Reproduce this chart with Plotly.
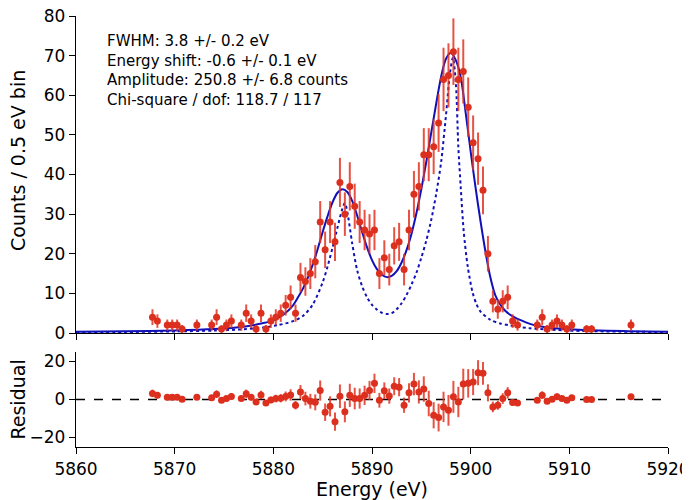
import plotly.graph_objects as go

# ---------------- data ----------------
energy = [5867.75, 5868.25, 5869.25, 5869.75, 5870.25, 5870.75, 5872.25, 5873.75,
          5874.25, 5874.75, 5875.25, 5875.75, 5876.75, 5877.25, 5877.75, 5878.25,
          5878.75, 5879.25, 5879.75, 5880.25, 5880.75, 5881.25, 5881.75, 5882.25,
          5882.75, 5883.25, 5883.75, 5884.25, 5884.75, 5885.25, 5885.75, 5886.25,
          5886.75, 5887.25, 5887.75, 5888.25, 5888.75, 5889.25, 5889.75, 5890.25,
          5890.75, 5891.25, 5891.75, 5892.25, 5892.75, 5893.25, 5893.75, 5894.25,
          5894.75, 5895.25, 5895.75, 5896.25, 5896.75, 5897.25, 5897.75, 5898.25,
          5898.75, 5899.25, 5899.75, 5900.25, 5900.75, 5901.25, 5901.75, 5902.25,
          5902.75, 5903.25, 5903.75, 5904.25, 5904.75, 5906.75, 5907.25, 5907.75,
          5908.25, 5908.75, 5909.25, 5909.75, 5910.25, 5911.75, 5912.25, 5916.25]

counts = [4, 3, 2, 2, 2, 1, 2, 2,
          4, 1, 2, 3, 2, 5, 3, 1,
          5, 1, 3, 4, 5, 7, 9, 5,
          14, 13, 15, 18, 28, 21, 28, 23,
          38, 30, 37, 32, 28, 26, 25, 26,
          15, 19, 16, 22, 23, 16, 26, 35,
          37, 45, 45, 47, 53, 64, 65, 71,
          64, 66, 57, 48, 44, 36, 20, 8,
          6, 8, 9, 3, 2, 2, 4, 1,
          2, 3, 2, 1, 2, 1, 1, 2]

count_err = [2.0, 1.7, 1.4, 1.4, 1.4, 1.0, 1.4, 1.4,
             2.0, 1.0, 1.4, 1.7, 1.4, 2.2, 1.7, 1.0,
             2.2, 1.0, 1.7, 2.0, 2.2, 2.6, 3.0, 2.2,
             3.7, 3.6, 3.9, 4.2, 5.3, 4.6, 5.3, 4.8,
             6.2, 5.5, 6.1, 5.7, 5.3, 5.1, 5.0, 5.1,
             3.9, 4.4, 4.0, 4.7, 4.8, 4.0, 5.1, 5.9,
             6.1, 6.7, 6.7, 6.9, 7.3, 8.0, 8.1, 8.4,
             8.0, 8.1, 7.5, 6.9, 6.6, 6.0, 4.5, 2.8,
             2.4, 2.8, 3.0, 1.7, 1.4, 1.4, 2.0, 1.0,
             1.4, 1.7, 1.4, 1.0, 1.4, 1.0, 1.0, 1.4]

residual = [3.2, 2.3, 1.2, 1.2, 1.2, 0.2, 1.2, 0.9,
            2.8, -0.4, 0.5, 1.6, 0.5, 3.0, 1.2, -1.3,
            2.4, -1.8, -0.2, 0.5, 0.7, 1.6, 2.4, -3.0,
            3.9, 0.5, -0.9, -1.5, 4.7, -6.7, -3.6, -11.7,
            1.7, -6.5, 2.2, 0.5, 0.5, 2.2, 4.8, 8.5,
            -0.4, 4.6, 1.8, 7.0, 6.5, -3.0, 3.5, 8.1,
            4.0, 5.5, -2.1, -8.3, -9.5, -3.9, -5.7, 1.4,
            -1.3, 8.1, 8.5, 9.2, 14.1, 13.8, 3.5, -3.9,
            -3.0, 0.5, 3.5, -1.6, -1.8, -0.4, 2.3, -0.9,
            0.2, 1.4, 0.5, -0.4, 0.9, 0.0, 0.0, 1.4]

# fitted model (solid)
fit_energy = [5860, 5865, 5870, 5874, 5877, 5879, 5880, 5881, 5882, 5882.5,
              5883, 5883.5, 5884, 5884.5, 5885, 5885.5, 5886, 5886.5, 5887,
              5887.5, 5888, 5888.5, 5889, 5889.5, 5890, 5890.5, 5891, 5891.5,
              5892, 5892.5, 5893, 5893.5, 5894, 5894.5, 5895, 5895.5, 5896,
              5896.5, 5897, 5897.5, 5898, 5898.5, 5899, 5899.5, 5900, 5900.5,
              5901, 5901.5, 5902, 5902.5, 5903, 5903.5, 5904, 5904.5, 5905,
              5906, 5907, 5908, 5910, 5913, 5916, 5920]
fit_counts = [0.3, 0.45, 0.65, 1.0, 1.6, 2.5, 3.2, 4.6, 7.0, 9.0,
              11.2, 14.0, 17.3, 21.2, 25.5, 29.5, 33.0, 35.4, 36.3,
              35.6, 33.3, 29.6, 25.5, 21.6, 18.4, 16.1, 14.7, 14.1,
              14.4, 15.6, 17.8, 20.9, 25.0, 30.2, 36.3, 43.2, 50.5,
              57.8, 64.6, 69.2, 70.7, 68.8, 64.5, 55.5, 45.8, 36.6,
              28.2, 20.5, 14.0, 9.5, 7.2, 5.6, 4.6, 3.9, 3.3,
              2.3, 1.7, 1.35, 0.95, 0.6, 0.45, 0.3]

# intrinsic line shape (dotted)
line_energy = [5860, 5865, 5870, 5874, 5877, 5879, 5880.5, 5882, 5883, 5884,
               5885, 5885.5, 5886, 5886.5, 5887, 5887.25, 5887.5, 5888, 5888.5,
               5889, 5889.5, 5890, 5890.5, 5891, 5891.5, 5892, 5892.5, 5893,
               5893.5, 5894, 5894.5, 5895, 5895.5, 5896, 5896.5, 5897, 5897.5,
               5897.9, 5898.2, 5898.5, 5898.75, 5899, 5899.3, 5899.7, 5900.2,
               5900.6, 5901, 5902, 5903, 5904, 5906, 5910, 5915, 5920]
line_counts = [0.15, 0.25, 0.4, 0.6, 0.95, 1.4, 2.0, 3.0, 4.3, 7.2,
               12.8, 16.8, 21.5, 26.6, 31.4, 32.8, 30.5, 22.5, 15.8,
               11.8, 9.0, 7.1, 5.9, 5.1, 4.8, 5.0, 6.0, 7.5,
               9.6, 12.2, 15.2, 19.0, 23.3, 28.5, 35.0, 43.0, 55.0,
               65.5, 69.5, 63.0, 47.0, 36.5, 25.5, 16.8, 10.2,
               7.2, 5.4, 3.3, 2.4, 1.9, 1.2, 0.6, 0.35, 0.25]

x_ticks = [5860, 5870, 5880, 5890, 5900, 5910, 5920]
count_ticks = [0, 10, 20, 30, 40, 50, 60, 70, 80]
resid_ticks = [-20, 0, 20]

fit_text = ["FWHM: 3.8 +/- 0.2 eV",
            "Energy shift: -0.6 +/- 0.1 eV",
            "Amplitude: 250.8 +/- 6.8 counts",
            "Chi-square / dof: 118.7 / 117"]

# ---------------- styling ----------------
FONT = "DejaVu Sans"
RED = "#dc2f1e"
RED_BAR = "rgba(226,52,34,0.85)"
BLUE = "#1111b8"

fig = go.Figure()

fig.add_trace(go.Scatter(
    x=line_energy, y=line_counts, mode="lines", xaxis="x", yaxis="y",
    line=dict(color=BLUE, width=2, dash="dot", shape="spline", smoothing=0.8),
    hoverinfo="skip", showlegend=False))
fig.add_trace(go.Scatter(
    x=fit_energy, y=fit_counts, mode="lines", xaxis="x", yaxis="y",
    line=dict(color=BLUE, width=2, shape="spline", smoothing=0.8),
    hoverinfo="skip", showlegend=False))
fig.add_trace(go.Scatter(
    x=energy, y=counts, mode="markers", xaxis="x", yaxis="y",
    marker=dict(color=RED, size=7),
    error_y=dict(type="data", array=count_err, visible=True,
                 color=RED_BAR, thickness=2, width=0),
    showlegend=False))
fig.add_trace(go.Scatter(
    x=energy, y=residual, mode="markers", xaxis="x2", yaxis="y2",
    marker=dict(color=RED, size=7),
    error_y=dict(type="data", array=count_err, visible=True,
                 color=RED_BAR, thickness=2, width=0),
    showlegend=False))

axis_common = dict(showline=True, linecolor="black", linewidth=1.3,
                   ticks="outside", ticklen=6, tickwidth=1.3, tickcolor="black",
                   showgrid=False, zeroline=False, mirror=False, automargin=False,
                   ticklabeloverflow="allow",
                   tickfont=dict(family=FONT, size=17, color="black"))

# the page body adds an 8px offset, so the figure is 8px smaller and shifted
fig.update_layout(
    template="none",
    width=682, height=492,
    margin=dict(l=68, r=22, t=8, b=53),
    paper_bgcolor="white", plot_bgcolor="white",
    font=dict(family=FONT, color="black"),
    xaxis=dict(domain=[0, 1], anchor="y", range=[5860, 5920],
               tickvals=x_ticks, showticklabels=False, **axis_common),
    yaxis=dict(domain=[0.2645, 1], anchor="x", range=[0, 80],
               tickvals=count_ticks, **axis_common),
    xaxis2=dict(domain=[0, 1], anchor="y2", range=[5860, 5920], matches="x",
                tickvals=x_ticks,
                title=dict(text="Energy (eV)", standoff=4,
                           font=dict(family=FONT, size=19, color="black")),
                **axis_common),
    yaxis2=dict(domain=[0, 0.2204], anchor="x2", range=[-25, 25],
                tickvals=resid_ticks, **axis_common),
)

fig.add_shape(type="line", xref="x2 domain", yref="y2", x0=0, x1=1, y0=0, y1=0,
              line=dict(color="black", width=1.5, dash="dash"), layer="below")

# y-axis titles
fig.add_annotation(xref="paper", yref="paper", x=-0.098, y=0.666,
                   xanchor="center", yanchor="middle", textangle=-90,
                   showarrow=False, text="Counts / 0.5 eV bin",
                   font=dict(family=FONT, size=19, color="black"))
fig.add_annotation(xref="paper", yref="paper", x=-0.098, y=0.110,
                   xanchor="center", yanchor="middle", textangle=-90,
                   showarrow=False, text="Residual",
                   font=dict(family=FONT, size=19, color="black"))

fig.add_annotation(
    xref="x domain", yref="y domain", x=0.049, y=0.957,
    xanchor="left", yanchor="top", align="left", showarrow=False,
    text="<br>".join(fit_text),
    font=dict(family=FONT, size=15, color="black"))

fig.write_html("out.html")
